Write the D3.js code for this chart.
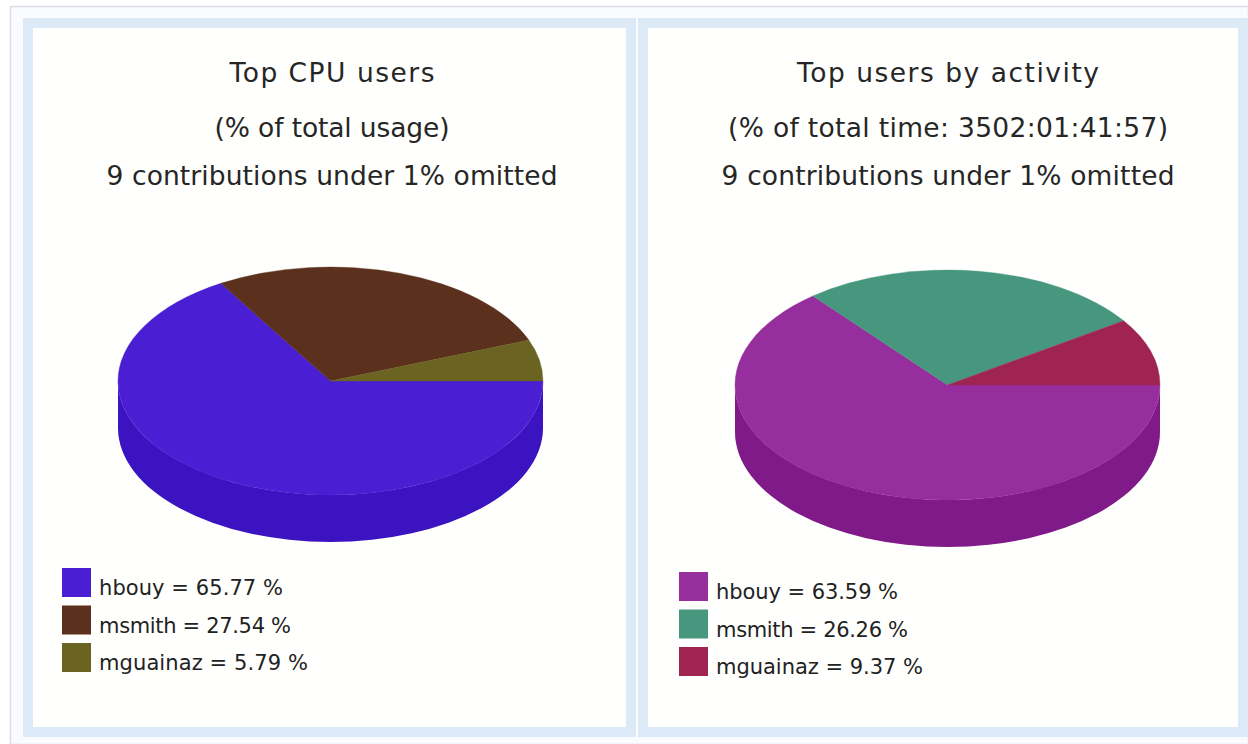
<!DOCTYPE html>
<html>
<head>
<meta charset="utf-8">
<script src="https://cdn.jsdelivr.net/npm/d3@7"></script>
<style>
	html, body { margin: 0; padding: 0; background: #ffffff; }
	svg { display: block; }
	.c-pie__title { font-family: "DejaVu Sans", sans-serif; font-size: 26.5px; fill: #262626; }
	.c-pie__legend { font-family: "DejaVu Sans", sans-serif; font-size: 21px; fill: #222222; }
</style>
</head>
<body>
<div id="chart"></div>
<script>
// data
var users = ["hbouy", "msmith", "mguainaz"];
var cpuShare = [65.77, 27.54, 5.79];
var activityShare = [63.59, 26.26, 9.37];

var cpuTitles = ["Top CPU users", "(% of total usage)", "9 contributions under 1% omitted"];
var activityTitles = ["Top users by activity", "(% of total time: 3502:01:41:57)", "9 contributions under 1% omitted"];

var cpuColors = ["#4a1fd3", "#5b301d", "#6b6322"];
var cpuSideColors = ["#3c13c0", "#4a2614", "#57501a"];
var activityColors = ["#972e9d", "#47977f", "#a02452"];
var activitySideColors = ["#801a88", "#37806a", "#881a44"];

var width = 1248, height = 744;

var svg = d3.select("#chart").append("svg")
	.attr("width", width)
	.attr("height", height);

//Outer frame
svg.append("rect")
	.attr("x", 10.5).attr("y", 6.5)
	.attr("width", width - 10).attr("height", height - 6)
	.attr("fill", "#f9fbfe")
	.attr("stroke", "#dedbe8")
	.attr("stroke-width", 1.5);

var panels = [
	{x: 23, y: 18, w: 613, h: 719, center: 332, titles: cpuTitles, titleWidths: [205, 235, 451],
	 values: cpuShare, colors: cpuColors, sides: cpuSideColors,
	 pie: {cx: 330.5, cy: 381, rx: 212.5, ry: 114, depth: 47},
	 legend: {x: 62, y: 568, step: 37.5, textWidths: [184, 192, 209]}},
	{x: 638, y: 18, w: 610, h: 719, center: 948, titles: activityTitles, titleWidths: [302, 440, 453],
	 values: activityShare, colors: activityColors, sides: activitySideColors,
	 pie: {cx: 947.5, cy: 385, rx: 212.5, ry: 115, depth: 47},
	 legend: {x: 679, y: 572, step: 37.5, textWidths: [182, 192, 207]}}
];

var titleBaselines = [82, 137, 185];

panels.forEach(function(p){
	var g = svg.append("g");

	//Panel border
	g.append("rect")
		.attr("x", p.x + 5).attr("y", p.y + 5)
		.attr("width", p.w - 10).attr("height", p.h - 10)
		.attr("fill", "#fffffd")
		.attr("stroke", "#dce9f6")
		.attr("stroke-width", 10);

	//Titles
	p.titles.forEach(function(t, i){
		g.append("text")
			.attr("class", "c-pie__title")
			.attr("x", p.center - p.titleWidths[i] / 2)
			.attr("y", titleBaselines[i])
			.attr("textLength", p.titleWidths[i])
			.attr("lengthAdjust", "spacing")
			.text(t);
	});

	drawPie(g, p);
	drawLegend(g, p);
});

function drawPie(g, p){
	var c = p.pie;
	var pie = d3.pie().sort(null)
		.startAngle(Math.PI / 2)
		.endAngle(Math.PI / 2 + 2 * Math.PI);
	var arcs = pie(p.values);

	function pt(a, dy){
		return [c.cx + c.rx * Math.sin(a), c.cy - c.ry * Math.cos(a) + dy];
	}

	//Side walls, only the front half is visible
	arcs.forEach(function(d, i){
		var b0 = Math.max(d.startAngle, Math.PI / 2),
			b1 = Math.min(d.endAngle, 3 * Math.PI / 2);
		if (b1 <= b0) return;
		var large = (b1 - b0) > Math.PI ? 1 : 0;
		var p0 = pt(b0, 0), p1 = pt(b1, 0), q1 = pt(b1, c.depth), q0 = pt(b0, c.depth);
		var path = "M" + p0 + " A" + c.rx + "," + c.ry + " 0 " + large + " 1 " + p1 +
			" L" + q1 + " A" + c.rx + "," + c.ry + " 0 " + large + " 0 " + q0 + " Z";
		g.append("path")
			.attr("d", path)
			.attr("fill", p.sides[i]);
	});

	//Top face
	var arc = d3.arc().innerRadius(0).outerRadius(c.rx);
	var top = g.append("g")
		.attr("transform", "translate(" + c.cx + "," + c.cy + ") scale(1," + (c.ry / c.rx) + ")");
	top.selectAll("path")
		.data(arcs)
		.enter().append("path")
		.attr("d", arc)
		.attr("fill", function(d, i){ return p.colors[i]; })
		.attr("stroke", function(d, i){ return p.colors[i]; })
		.attr("stroke-width", 0.5);
}

function drawLegend(g, p){
	var l = p.legend;
	users.forEach(function(u, i){
		g.append("rect")
			.attr("x", l.x)
			.attr("y", l.y + i * l.step)
			.attr("width", 29)
			.attr("height", 29)
			.attr("fill", p.colors[i]);

		g.append("text")
			.attr("class", "c-pie__legend")
			.attr("x", l.x + 37)
			.attr("y", l.y + i * l.step + 27)
			.attr("textLength", l.textWidths[i])
			.attr("lengthAdjust", "spacing")
			.text(u + " = " + p.values[i].toFixed(2) + " %");
	});
}
</script>
</body>
</html>
